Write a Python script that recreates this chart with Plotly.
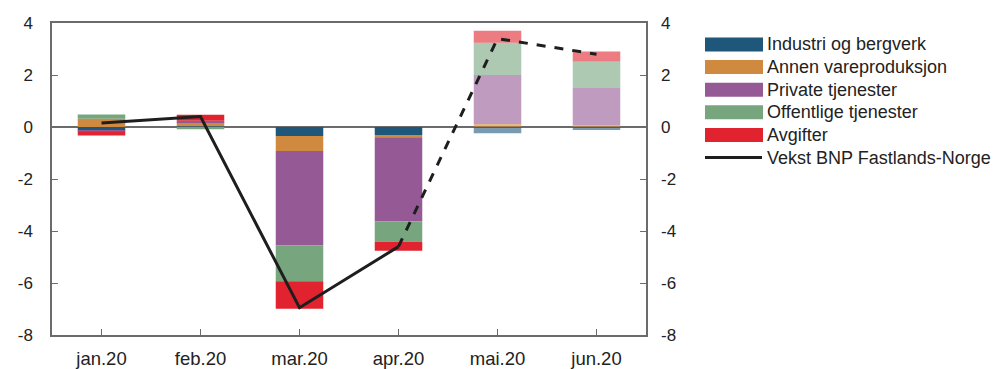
import plotly.graph_objects as go

months = ["jan.20", "feb.20", "mar.20", "apr.20", "mai.20", "jun.20"]
industri = [-0.13, 0.03, -0.35, -0.31, -0.24, -0.12]
annen = [0.32, 0.14, -0.57, -0.08, 0.12, 0.07]
private = [-0.04, 0.07, -3.64, -3.24, 1.88, 1.43]
offentlige = [0.16, -0.09, -1.37, -0.78, 1.24, 1.02]
avgifter = [-0.16, 0.23, -1.06, -0.35, 0.46, 0.38]
vekst_faktisk = [0.15, 0.4, -6.95, -4.6]
vekst_anslag = [-4.6, 3.4, 2.8]
faktisk_months = months[:4]
anslag_months = months[3:]
ytick_vals = [-8, -6, -4, -2, 0, 2, 4]
ytick_text = ["-8", "-6", "-4", "-2", "0", "2", "4"]
line_name = "Vekst BNP Fastlands-Norge"

series = [
    ("Industri og bergverk", industri, (31, 87, 122)),
    ("Annen vareproduksjon", annen, (208, 138, 64)),
    ("Private tjenester", private, (149, 89, 150)),
    ("Offentlige tjenester", offentlige, (119, 165, 126)),
    ("Avgifter", avgifter, (224, 35, 46)),
]
alphas = [1, 1, 1, 1, 0.6, 0.6]
line_color = "#1e1e1e"

# figure geometry (px) used to place the hand-drawn legend
W, H = 1001, 361
ML, MR, MT, MB = 44, 363, 15, 34
PW, PH = W - ML - MR, H - MT - MB
OFF = 8  # page body margin


def px_x(sx):
    return (sx - OFF - ML) / PW


def px_y(sy):
    return 1 - (sy - OFF - MT) / PH


fig = go.Figure()
for name, vals, (r, g, b) in series:
    cols = [f"rgba({r},{g},{b},{a})" for a in alphas]
    fig.add_trace(go.Bar(x=months, y=vals, name=name, width=0.48,
                         showlegend=False,
                         marker=dict(color=cols, line=dict(width=0))))

fig.add_trace(go.Scatter(x=faktisk_months, y=vekst_faktisk, mode="lines",
                         name=line_name, showlegend=False,
                         line=dict(color=line_color, width=3)))
fig.add_trace(go.Scatter(x=anslag_months, y=vekst_anslag, mode="lines",
                         showlegend=False,
                         line=dict(color=line_color, width=3, dash="dash")))
fig.add_trace(go.Scatter(x=months, y=[None]*6, yaxis="y2", showlegend=False,
                         hoverinfo="skip"))

# custom legend
lfont = dict(family="Liberation Sans, Arial, sans-serif", size=18, color="#222")
row0, rowstep = 44.5, 22.6
sx0, sx1, tx = 705, 763, 765
shapes, annots = [], []
for i, (name, _, (r, g, b)) in enumerate(series):
    cy = row0 + i * rowstep
    shapes.append(dict(type="rect", xref="paper", yref="paper",
                       x0=px_x(sx0), x1=px_x(sx1), y0=px_y(cy + 7), y1=px_y(cy - 7),
                       fillcolor=f"rgb({r},{g},{b})", line=dict(width=0)))
    annots.append(dict(xref="paper", yref="paper", x=px_x(tx), y=px_y(cy),
                       xanchor="left", yanchor="middle", text=name,
                       showarrow=False, font=lfont))
cy = row0 + len(series) * rowstep
shapes.append(dict(type="line", xref="paper", yref="paper",
                   x0=px_x(sx0), x1=px_x(sx1 - 1), y0=px_y(cy), y1=px_y(cy),
                   line=dict(color=line_color, width=3)))
annots.append(dict(xref="paper", yref="paper", x=px_x(tx), y=px_y(cy),
                   xanchor="left", yanchor="middle", text=line_name,
                   showarrow=False, font=lfont))

axcol = "#6b6b6b"
fnt = dict(family="Liberation Sans, Arial, sans-serif", size=17, color="#222")
xfnt = dict(family="Liberation Sans, Arial, sans-serif", size=18.5, color="#222")
fig.update_layout(
    width=W, height=H,
    margin=dict(l=ML, r=MR, t=MT, b=MB, autoexpand=False),
    barmode="relative",
    plot_bgcolor="white", paper_bgcolor="white",
    font=fnt,
    showlegend=False,
    shapes=shapes, annotations=annots,
    xaxis=dict(range=[-0.5, 5.5], showline=True, linecolor=axcol, linewidth=1.5,
               mirror=True, ticks="inside", ticklen=6, tickcolor=axcol,
               showgrid=False, tickfont=xfnt, ticklabelstandoff=6, automargin=False),
    yaxis=dict(range=[-8, 4], tickvals=ytick_vals, ticktext=ytick_text,
               showline=True, linecolor=axcol, linewidth=1.5,
               mirror=True, ticks="inside", ticklen=6, tickcolor=axcol,
               showgrid=False, zeroline=True, zerolinecolor=axcol, zerolinewidth=1.5,
               tickfont=fnt, ticklabelstandoff=14, automargin=False),
    yaxis2=dict(range=[-8, 4], tickvals=ytick_vals, ticktext=ytick_text,
                overlaying="y", side="right",
                ticks="inside", ticklen=6, tickcolor=axcol, showgrid=False,
                zeroline=False, showline=False, tickfont=fnt, ticklabelstandoff=14,
                automargin=False),
)
fig.write_html("out.html")
